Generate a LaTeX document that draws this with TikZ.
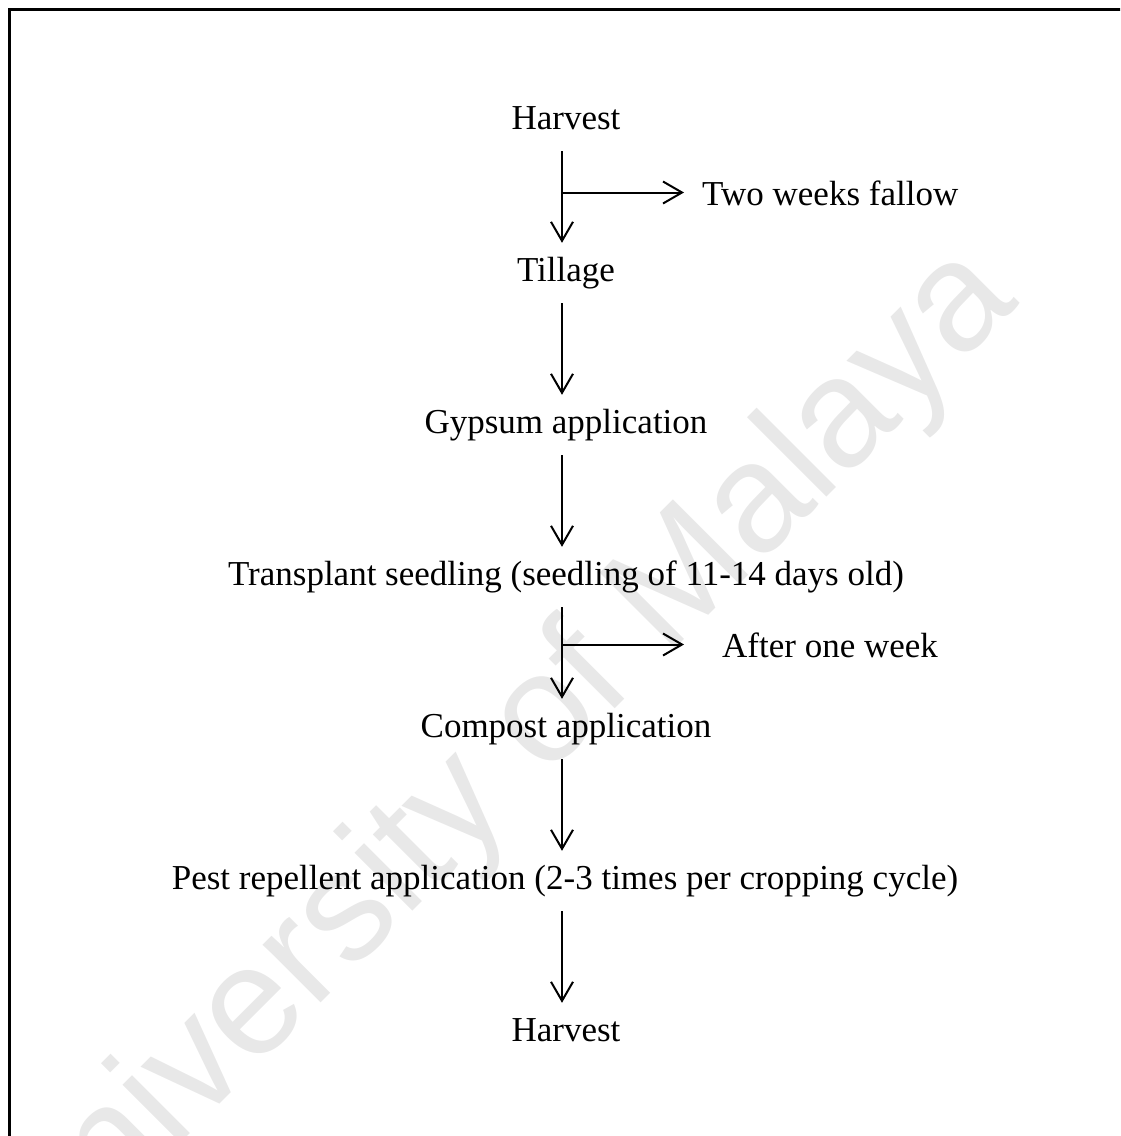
\documentclass[tikz,border=0pt]{standalone}
\usepackage{fontspec}
\setmainfont{Liberation Serif}
\newfontfamily\wmfont{Liberation Sans}
\usetikzlibrary{arrows.meta}
\begin{document}
\begin{tikzpicture}[x=1pt,y=-1pt,
  stage/.style={anchor=base, font=\fontsize{35}{42}\selectfont,
    inner xsep=0pt, inner ysep=14pt, text height=24pt, text depth=8pt},
  note/.style={anchor=base west, font=\fontsize{35}{42}\selectfont,
    inner ysep=0pt, text height=25pt, text depth=0pt},
  flow/.style={line width=2pt,
    -{Straight Barb[length=19pt,width=22pt,line width=2pt]}},
  frame/.style={line width=3pt},
  mark text/.style={font=\wmfont\fontsize{155}{160}\selectfont,
    text=black!9, rotate=45, anchor=base, inner sep=0pt}
]
\useasboundingbox (0,0) rectangle (1120,1136);
\clip (0,0) rectangle (1120,1136);

% background mark
\node[mark text] (wm) at (527,797) {University of Malaya};

% outer frame
\draw[frame] (1140,9.5) -- (9.5,9.5) -- (9.5,1150);

% vertical spine of the flow
\coordinate (spine) at (562,0);

% stages
\node[stage] (h1) at (566,129) {Harvest};
\node[stage] (t)  at (566,281) {Tillage};
\node[stage] (g)  at (566,433) {Gypsum application};
\node[stage] (s)  at (566,585) {Transplant seedling (seedling of 11-14 days old)};
\node[stage] (c)  at (566,737) {Compost application};
\node[stage] (p)  at (565,889) {Pest repellent application (2-3 times per cropping cycle)};
\node[stage] (h2) at (566,1041) {Harvest};

% side notes
\node[note, inner xsep=18pt] (fallow) at (684,205) {Two weeks fallow};
\node[note, inner xsep=38pt] (week)   at (684,657) {After one week};

% main arrows
\draw[flow] (spine |- h1.south) -- (spine |- t.north);
\draw[flow] (spine |- t.south)  -- (spine |- g.north);
\draw[flow] (spine |- g.south)  -- (spine |- s.north);
\draw[flow] (spine |- s.south)  -- (spine |- c.north);
\draw[flow] (spine |- c.south)  -- (spine |- p.north);
\draw[flow] (spine |- p.south)  -- (spine |- h2.north);

% branch arrows
\draw[flow] (spine |- fallow.west) -- (fallow.west);
\draw[flow] (spine |- week.west)   -- (week.west);
\end{tikzpicture}
\end{document}
